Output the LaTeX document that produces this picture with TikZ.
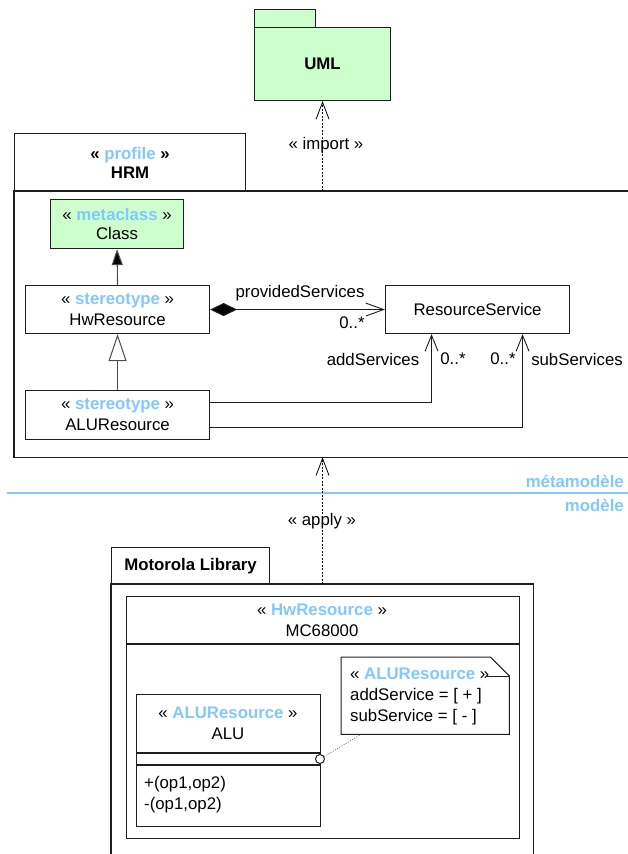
\documentclass[tikz,border=0pt]{standalone}
\usepackage{fontspec}
\setmainfont{Liberation Sans}
\usetikzlibrary{arrows.meta,calc}
\definecolor{stblue}{RGB}{130,200,255}
\definecolor{pkggreen}{RGB}{204,255,204}
\definecolor{edgec}{RGB}{30,30,30}
\newcommand{\stname}[1]{«~\textcolor{stblue}{\textbf{#1}}~»}
\begin{document}
\begin{tikzpicture}[x=1pt,y=-1pt,
  font=\fontsize{16.8}{21}\selectfont,
  box/.style={draw=edgec, line width=1.1pt, inner sep=0pt, align=center, anchor=north west},
  ghost/.style={inner sep=0pt, anchor=north west},
  lbl/.style={inner sep=0pt},
  dep/.style={line width=0.6pt, dash pattern=on 2pt off 1.5pt, -{Straight Barb[length=17pt,width=13pt,line width=0.8pt]}},
  assoc/.style={draw=edgec, line width=1.1pt, -{Straight Barb[length=16pt,width=13pt,line width=0.9pt]}},
  frame/.style={draw=edgec, line width=1.3pt}]
\useasboundingbox (0,0) rectangle (628,854);

% UML package
\node[box, fill=pkggreen, minimum width=61pt, minimum height=18pt] (umltab) at (254,9) {};
\node[box, fill=pkggreen, minimum width=136pt, minimum height=73pt] (umlbody) at (254,27) {\textbf{UML}};

% HRM profile
\node[box, minimum width=231pt, minimum height=58pt, font=\fontsize{16.8}{19}\selectfont] (hrmtab) at (14,133) {\textbf{«~\textcolor{stblue}{profile}~»}\\\textbf{HRM}};
\node[ghost, minimum width=640pt, minimum height=266pt] (hrmbody) at (14,191) {};
\draw[frame] (hrmbody.north east) -- (hrmbody.north west) -- (hrmbody.south west) -- (hrmbody.south east);

\node[box, fill=pkggreen, minimum width=133pt, minimum height=49pt, font=\fontsize{16.8}{19}\selectfont] (class) at (50,199) {\stname{metaclass}\\Class};
\node[box, minimum width=184pt, minimum height=48pt] (hw) at (25,285) {\stname{stereotype}\\HwResource};
\node[box, minimum width=184pt, minimum height=48pt] (rs) at (385,285) {ResourceService};
\node[box, minimum width=184pt, minimum height=49pt] (alures) at (25,390) {\stname{stereotype}\\ALUResource};

\draw[draw=black!70, line width=1.1pt, -{Triangle[length=16pt,width=11pt,fill=black]}] (hw.north) -- (class.south);
\draw[draw=black!70, line width=1.1pt, -{Triangle[open,length=27pt,width=18pt,line width=1pt]}] (alures.north) -- (hw.south);
\draw[assoc, {Diamond[length=27pt,width=13pt,fill=black]}-{Straight Barb[length=18pt,width=13pt,line width=0.9pt]}] (hw.east) -- (rs.west);
\draw[assoc] ([yshift=12.5pt]alures.east) -| ([xshift=-46pt]rs.south);
\draw[assoc] ([yshift=-12.5pt]alures.east) -| ([xshift=45pt]rs.south);

\node[lbl] (lprov) at (300,293) {providedServices};
\node[lbl] (mprov) at (352,323) {0..*};
\node[lbl] (ladd) at (373,359) {addServices};
\node[lbl] (madd) at (453,359) {0..*};
\node[lbl] (msub) at (503,359) {0..*};
\node[lbl] (lsub) at (577,359) {subServices};

% import
\draw[dep] (hrmbody.north -| umlbody.south) -- (umlbody.south);
\node[lbl] (limport) at (326,145) {« import »};

% separator
\draw[draw=stblue, line width=1.3pt] (7,493) -- (628,493);
\node[lbl, anchor=east] (lmeta) at (624,481) {\textcolor{stblue}{\textbf{métamodèle}}};
\node[lbl, anchor=east] (lmod) at (624,505) {\textcolor{stblue}{\textbf{modèle}}};

% Motorola library
\node[box, minimum width=158pt, minimum height=37pt] (motab) at (111,547) {\textbf{Motorola Library}};
\node[ghost, minimum width=422pt, minimum height=300pt] (mobody) at (111,584) {};
\draw[frame] (mobody.south west) -- (mobody.north west) -- (mobody.north east) -- (mobody.south east);

\draw[dep] (mobody.north -| umlbody.south) -- (hrmbody.south -| umlbody.south);
\node[lbl] (lapply) at (322,521) {« apply »};

% MC68000
\node[box, minimum width=393pt, minimum height=242pt] (mc) at (126,596) {};
\draw[draw=edgec, line width=1.1pt] (mc.west |- 0,644) -- (mc.east |- 0,644);
\node[lbl, align=center] (mcname) at (322,620.5) {\stname{HwResource}\\MC68000};

% ALU
\node[box, minimum width=184pt, minimum height=132pt] (alu) at (136,694) {};
\draw[draw=edgec, line width=1.1pt] (alu.west |- 0,753) -- (alu.east |- 0,753);
\draw[draw=edgec, line width=1.1pt] (alu.west |- 0,765) -- (alu.east |- 0,765);
\node[lbl, align=center] (aluname) at (228,723.5) {\stname{ALUResource}\\ALU};
\node[lbl, align=left, anchor=west] (aluops) at (144,794.5) {+(op1,op2)\\-(op1,op2)};

% note
\node[ghost, minimum width=168pt, minimum height=77pt] (note) at (341,657) {};
\draw[draw=edgec, line width=1pt, fill=white] (note.north west) -- ([xshift=-19pt]note.north east) -- ([yshift=-19pt]note.north east) -- (note.south east) -- (note.south west) -- cycle;
\draw[draw=edgec, line width=1pt] ([xshift=-22pt,yshift=-19pt]note.north east) -- ([yshift=-19pt]note.north east);
\node[lbl, align=left, anchor=west] (notetext) at (350,696) {\stname{ALUResource}\\addService = [ + ]\\subService = [ - ]};

\node[draw=edgec, line width=1pt, fill=white, circle, inner sep=0pt, minimum size=9pt] (att) at (320,759) {};
\draw[line width=0.6pt, dash pattern=on 1pt off 1.5pt, draw=black!70] (att) -- ([xshift=20pt]note.south west);
\end{tikzpicture}
\end{document}
